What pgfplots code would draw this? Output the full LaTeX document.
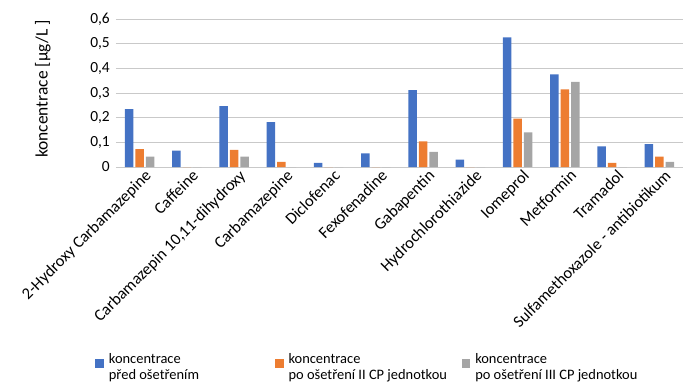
\documentclass[border=0pt]{standalone}
\usepackage{fontspec}
\setmainfont{Carlito}
\usepackage{pgfplots}
\pgfplotsset{compat=1.18}
\usepackage{pgfplotstable}

\definecolor{sBlue}{HTML}{4472C4}
\definecolor{sOrange}{HTML}{ED7D31}
\definecolor{sGray}{HTML}{A5A5A5}
\definecolor{gridc}{HTML}{C9C9C9}

% idx  pred  poII  poIII
\pgfplotstableread{
x  a      b      c
0  0.235  0.072  0.042
1  0.066  0      0
2  0.247  0.069  0.042
3  0.182  0.021  0
4  0.017  0      0
5  0.055  0      0
6  0.312  0.104  0.061
7  0.030  0      0
8  0.526  0.196  0.140
9  0.376  0.315  0.345
10 0.084  0.017  0
11 0.093  0.042  0.021
}\datatable

\begin{document}
\begin{tikzpicture}
\begin{axis}[
  scale only axis,
  width=567bp, height=148bp,
  at={(0,0)}, anchor=south west,
  ybar=2bp, bar width=8.5bp,
  xmin=-0.5, xmax=11.5,
  ymin=0, ymax=0.6,
  ytick={0,0.1,...,0.6},
  yticklabels={0,{0,1},{0,2},{0,3},{0,4},{0,5},{0,6}},
  xtick=data,
  xticklabels={2-Hydroxy Carbamazepine, Caffeine, {Carbamazepin 10,11-dihydroxy}, Carbamazepine, Diclofenac, Fexofenadine, Gabapentin, Hydrochlorothiazide, Iomeprol, Metformin, Tramadol, Sulfamethoxazole - antibiotikum},
  major tick length=0pt,
  axis line style={draw=none},
  axis x line*=bottom,
  ymajorgrids, grid style={gridc, line width=1bp},
  ticklabel style={font=\fontsize{15.5}{17}\selectfont},
  yticklabel style={inner sep=0pt, xshift=-6bp},
  xticklabel style={font=\fontsize{16.5}{18}\selectfont, rotate=45, anchor=north east, inner sep=0pt, xshift=2bp, yshift=-4bp},
  ylabel={koncentrace [µg/L ]},
  ylabel style={font=\fontsize{17.5}{19}\selectfont, at={(axis description cs:-0.129,0.527)}, anchor=center},
  legend columns=3,
  legend style={draw=none, fill=none, inner sep=0pt,
    at={(axis description cs:-0.037,-1.235)}, anchor=north west,
    font=\fontsize{14.5}{16.5}\selectfont,
    /tikz/every odd column/.append style={column sep=3bp}},
  legend image code/.code={\fill[#1] (0bp,-1bp) rectangle (8.7bp,7.7bp);},
  enlarge x limits=false,
]
\addplot[fill=sBlue, draw=none] table[x=x, y=a] {\datatable};
\addplot[fill=sOrange, draw=none] table[x=x, y=b] {\datatable};
\addplot[fill=sGray, draw=none] table[x=x, y=c] {\datatable};
\addlegendentry{\begin{tabular}[b]{@{}p{164bp}@{}}koncentrace\\před ošetřením\end{tabular}}
\addlegendentry{\begin{tabular}[b]{@{}p{171bp}@{}}koncentrace\\po ošetření II CP jednotkou\end{tabular}}
\addlegendentry{\begin{tabular}[b]{@{}l@{}}koncentrace\\po ošetření III CP jednotkou\end{tabular}}
\end{axis}
\pgfresetboundingbox
\path (-116bp,-218bp) rectangle (567bp,167bp);
\end{tikzpicture}
\end{document}
